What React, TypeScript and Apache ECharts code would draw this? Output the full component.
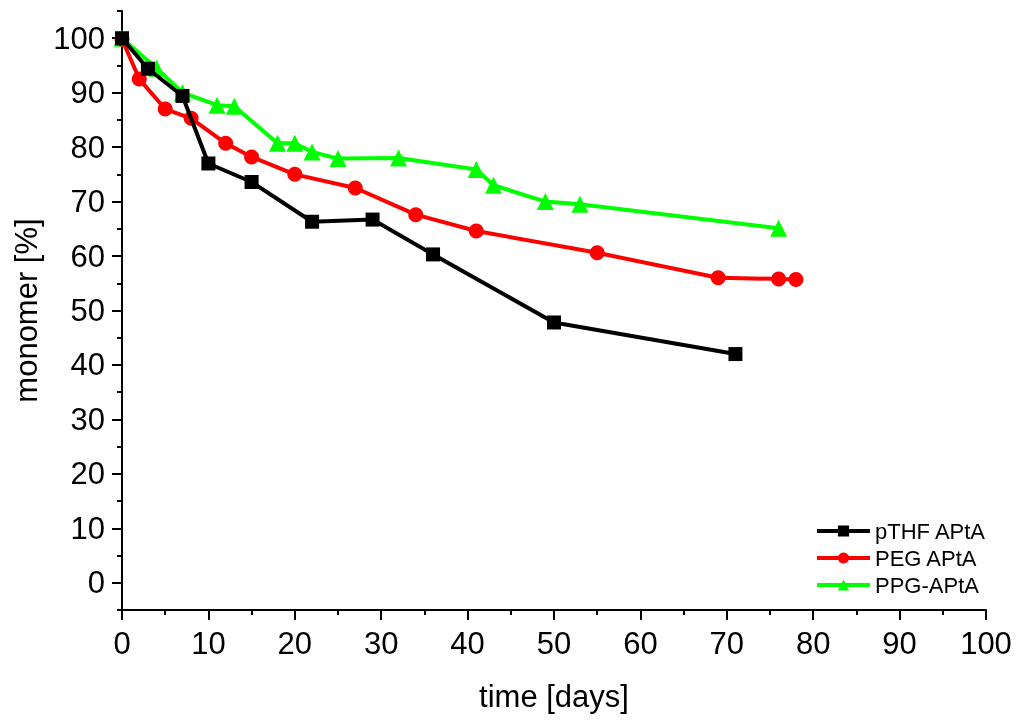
import { useEffect, useRef } from "react";
import * as echarts from "echarts";

type Pt = [number, number];

// time [days], monomer [%]
const pthfData: Pt[] = [
  [0, 100], [3, 94.4], [7, 89.4], [10, 77.0], [15, 73.6], [22, 66.3],
  [29, 66.7], [36, 60.3], [50, 47.8], [71, 42.0],
];
const pegData: Pt[] = [
  [0, 99.8], [2, 92.5], [5, 87.0], [8, 85.3], [12, 80.7], [15, 78.2],
  [20, 75.0], [27, 72.5], [34, 67.6], [41, 64.6], [55, 60.6], [69, 56.0],
  [76, 55.8], [78, 55.7],
];
const ppgData: Pt[] = [
  [0, 100], [4, 94.5], [7, 90.0], [11, 87.7], [13, 87.5], [18, 80.7],
  [20, 80.7], [22, 79.1], [25, 77.9], [32, 78.0], [41, 75.9], [43, 73.0],
  [49, 70.0], [53, 69.5], [76, 65.1],
];

const seriesNames = ["pTHF APtA", "PEG APtA", "PPG-APtA"];
const seriesColors = ["#000000", "#ff0000", "#00ff00"];
const seriesSymbols = ["rect", "circle", "triangle"];
const seriesSizes = [14, 15, 17];

const yMajorTicks = [0, 10, 20, 30, 40, 50, 60, 70, 80, 90, 100];
const yMinorTicks = [-5, 5, 15, 25, 35, 45, 55, 65, 75, 85, 95, 105];

const font = "Liberation Sans, Arial, sans-serif";

export default function App() {
  const ref = useRef<HTMLDivElement | null>(null);

  useEffect(() => {
    if (!ref.current) return;
    const chart = echarts.init(ref.current, null, { renderer: "svg" });
    const datasets = [pthfData, pegData, ppgData];

    chart.setOption({
      animation: false,
      textStyle: { fontFamily: font, color: "#000" },
      grid: {
        left: 122,
        right: 34,
        top: 11,
        bottom: 115,
        containLabel: false,
        outerBoundsMode: "none",
      },
      legend: {
        orient: "vertical",
        left: 810,
        top: 515,
        itemWidth: 53,
        itemHeight: 14,
        itemGap: 5,
        lineStyle: { width: 4 },
        textStyle: { fontSize: 22, lineHeight: 22, fontFamily: font, color: "#000" },
        data: seriesNames,
      },
      xAxis: {
        type: "value",
        min: 0,
        max: 100,
        interval: 10,
        name: "time [days]",
        nameLocation: "middle",
        nameGap: 71,
        nameTextStyle: { fontSize: 31, fontFamily: font, color: "#000" },
        axisLine: { show: true, onZero: false, lineStyle: { color: "#000", width: 2 } },
        axisTick: { show: true, inside: false, length: 10, lineStyle: { color: "#000", width: 2 } },
        minorTick: { show: true, splitNumber: 2, length: 5, lineStyle: { color: "#000", width: 2 } },
        axisLabel: { fontSize: 31, color: "#000", margin: 18, fontFamily: font },
        splitLine: { show: false },
      },
      yAxis: [
        {
          type: "value",
          min: -5,
          max: 105,
          interval: 5,
          name: "monomer [%]",
          nameLocation: "middle",
          nameGap: 78,
          nameTextStyle: { fontSize: 31, fontFamily: font, color: "#000" },
          axisLine: { show: true, onZero: false, lineStyle: { color: "#000", width: 2 } },
          axisTick: {
            show: true,
            inside: false,
            length: 10,
            customValues: yMajorTicks,
            lineStyle: { color: "#000", width: 2 },
          },
          axisLabel: {
            fontSize: 31,
            color: "#000",
            margin: 17,
            fontFamily: font,
            customValues: yMajorTicks,
            formatter: (v: number) => String(v),
          },
          splitLine: { show: false },
        },
        {
          type: "value",
          min: -5,
          max: 105,
          interval: 5,
          position: "left",
          axisLine: { show: false, onZero: false },
          axisTick: {
            show: true,
            inside: false,
            length: 5,
            customValues: yMinorTicks,
            lineStyle: { color: "#000", width: 2 },
          },
          axisLabel: { show: false },
          splitLine: { show: false },
        },
      ],
      series: datasets.map((d, i) => ({
        name: seriesNames[i],
        type: "line",
        data: d,
        symbol: seriesSymbols[i],
        symbolSize: seriesSizes[i],
        showSymbol: true,
        lineStyle: { color: seriesColors[i], width: 4 },
        itemStyle: { color: seriesColors[i] },
        z: 3 - i,
      })),
    });

    return () => chart.dispose();
  }, []);

  return (
    <div
      ref={ref}
      style={{ position: "fixed", left: 0, top: 0, width: 1020, height: 725 }}
    />
  );
}
